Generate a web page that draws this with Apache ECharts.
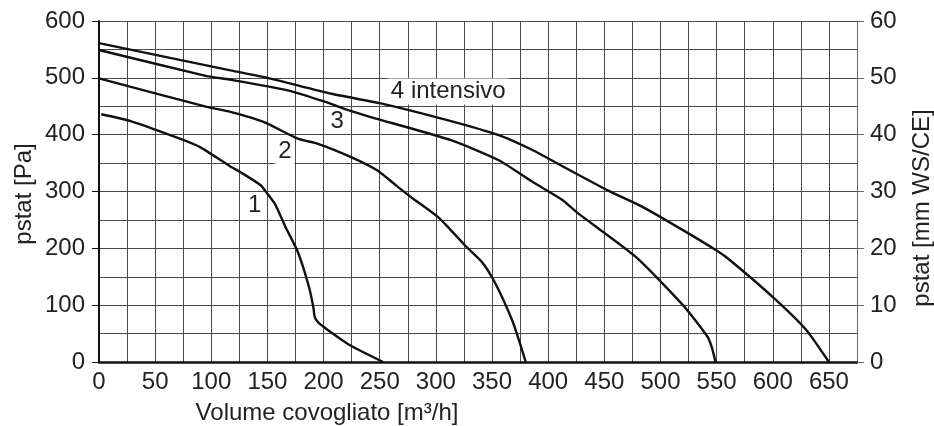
<!DOCTYPE html>
<html>
<head>
<meta charset="utf-8">
<script src="https://cdn.jsdelivr.net/npm/echarts@6/dist/echarts.min.js"></script>
<style>html,body{margin:0;padding:0;background:#fff}#c{width:934px;height:426px}</style>
</head>
<body>
<div id="c"></div>
<script>
// Curve data [volume m3/h, pstat Pa]
const curve1 = [[2,436],[28,424],[72,393],[90,378],[117,344],[126,334],[144,311],[150,296],[157,277],[166,238],[177,194],[187,132],[191,95],[192,80],[195,70],[204,56],[224,29],[253,0]];
const curve2 = [[0,499],[96,449],[117,440],[147,422],[177,393],[195,384],[224,361],[248,337],[265,310],[278,290],[302,255],[311,237],[326,205],[341,176],[353,138],[368,73],[375,32],[380,0]];
const curve3 = [[0,549],[96,503],[116,497],[168,478],[201,458],[222,443],[242,431],[314,390],[356,355],[386,317],[412,286],[427,261],[478,185],[520,100],[542,44],[546,24],[549,0]];
const curve4 = [[0,561],[117,513],[150,500],[207,472],[251,455],[311,425],[356,399],[386,373],[400,358],[453,302],[484,273],[520,232],[550,196],[562,179],[603,109],[630,56],[650,0]];
const curveLabels = [[138.6,276,'1'],[165.5,370,'2'],[212,424,'3'],[311,476,'4 intensivo']];
const xLabelStep = 50;
const leftAxisName = 'pstat [Pa]';
const rightAxisName = 'pstat [mm WS/CE]';
const xAxisName = 'Volume covogliato [m³/h]';

const FONT = 'Liberation Sans';
const FS = 24;
const gridColor = '#4a4a4a';
const lineStyle = {color:'#111', width:2.4};
const mk = d => ({type:'line', data:d, showSymbol:false, symbol:'none', smooth:0.2, lineStyle:lineStyle, z:4, yAxisIndex:0});

const chart = echarts.init(document.getElementById('c'), null, {renderer:'canvas'});
chart.setOption({
  animation:false,
  backgroundColor:'#fff',
  grid:{left:99, right:77, top:21, bottom:64, containLabel:false},
  xAxis:{
    type:'value', min:0, max:675, interval:25,
    axisLine:{show:true, onZero:false, lineStyle:{color:'#111', width:2.5}},
    axisTick:{show:false},
    axisLabel:{fontFamily:FONT, fontSize:FS, color:'#222', margin:8,
      formatter:v => (v % xLabelStep === 0 && v <= 650) ? String(v) : ''},
    splitLine:{show:true, lineStyle:{color:gridColor, width:1}}
  },
  yAxis:[{
    type:'value', min:0, max:600, interval:100, position:'left',
    axisLine:{show:true, lineStyle:{color:'#111', width:2}},
    axisTick:{show:true, length:7, lineStyle:{color:'#111', width:1}},
    axisLabel:{fontFamily:FONT, fontSize:FS, color:'#222', margin:14},
    splitLine:{show:true, lineStyle:{color:gridColor, width:1}},
    minorTick:{show:false, splitNumber:2},
    minorSplitLine:{show:true, lineStyle:{color:gridColor, width:1}}
  },{
    type:'value', min:0, max:60, interval:10, position:'right',
    axisLine:{show:true, lineStyle:{color:'#666', width:1}},
    axisTick:{show:true, length:7, lineStyle:{color:'#666', width:1}},
    axisLabel:{fontFamily:FONT, fontSize:FS, color:'#222', margin:13},
    splitLine:{show:false}
  }],
  graphic:[
    {type:'text', x:327, y:413, style:{text:xAxisName, font:FS+'px "Liberation Sans"', fill:'#222', textAlign:'center', textVerticalAlign:'middle'}},
    {type:'text', x:24, y:194, rotation:Math.PI/2, style:{text:leftAxisName, font:FS+'px "Liberation Sans"', fill:'#222', textAlign:'center', textVerticalAlign:'middle'}},
    {type:'text', x:922, y:208, rotation:Math.PI/2, style:{text:rightAxisName, font:FS+'px "Liberation Sans"', fill:'#222', textAlign:'center', textVerticalAlign:'middle'}}
  ],
  series:[
    mk(curve1), mk(curve2), mk(curve3), mk(curve4),
    {type:'scatter', data:curveLabels, symbolSize:1, z:2, silent:true,
     itemStyle:{opacity:0},
     label:{show:true, position:'inside', formatter:p => p.data[2], fontFamily:FONT, fontSize:FS, color:'#222', opacity:1,
       backgroundColor:'#fff', padding:[1,3]}}
  ]
});
</script>
</body>
</html>
